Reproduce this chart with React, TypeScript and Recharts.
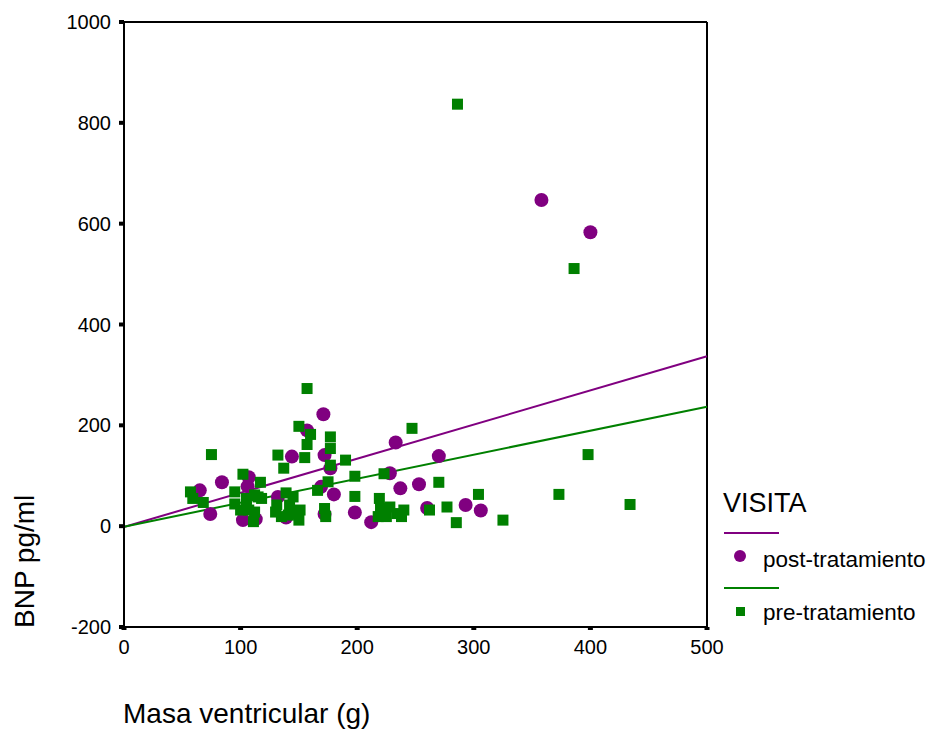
import React from 'react'
import {
  ScatterChart,
  Scatter,
  XAxis,
  YAxis,
  ReferenceLine,
  Label,
} from 'recharts'

// post-tratamiento (circles)
const postMasa = [65, 84, 74, 107, 106, 102, 113, 132, 139, 144, 157, 171, 172, 177, 169, 180, 172, 198, 212, 233, 228, 237, 253, 260, 270, 293, 306, 358, 400]
const postBnp = [71, 87, 24, 97, 79, 12, 14, 58, 17, 138, 190, 222, 141, 115, 78, 63, 24, 27, 8, 166, 105, 75, 83, 36, 139, 42, 31, 647, 583]

// pre-tratamiento (squares)
const preMasa = [57, 59, 68, 75, 95, 95, 100, 102, 105, 105, 107, 112, 112, 111, 115, 118, 117, 130, 131, 135, 132, 137, 139, 145, 142, 141, 145, 151, 150, 150, 157, 160, 157, 155, 177, 177, 177, 175, 166, 172, 173, 190, 198, 198, 219, 223, 220, 222, 218, 228, 225, 234, 240, 238, 247, 270, 262, 277, 285, 304, 325, 373, 398, 434, 386, 286]
const preBnp = [68, 55, 47, 142, 68, 44, 32, 103, 55, 38, 32, 62, 28, 9, 58, 55, 87, 28, 42, 19, 141, 115, 66, 58, 42, 22, 25, 32, 12, 198, 273, 182, 162, 136, 177, 154, 121, 88, 71, 35, 19, 131, 99, 59, 55, 104, 35, 28, 19, 38, 19, 25, 32, 19, 194, 87, 32, 38, 7, 63, 12, 63, 142, 43, 511, 837]

// fitted lines, read at x = 0 and x = 500
const fitMasa = [0, 500]
const postFit = [-1.5, 337]
const preFit = [-1, 237]

const xTicks = [0, 100, 200, 300, 400, 500]
const yTicks = [-200, 0, 200, 400, 600, 800, 1000]

const PURPLE = '#800080'
const GREEN = '#008000'
const FONT = 'Liberation Sans, Arial, sans-serif'

const postData = postMasa.map((m, i) => ({ masa: m, bnp: postBnp[i] }))
const preData = preMasa.map((m, i) => ({ masa: m, bnp: preBnp[i] }))

const Circle = (p: any) => <circle cx={p.cx} cy={p.cy} r={7} fill={PURPLE} />
const Square = (p: any) => (
  <rect x={p.cx - 5.5} y={p.cy - 5.5} width={11} height={11} fill={GREEN} />
)

const XTitle = (props: any) => {
  const vb = props.viewBox
  return (
    <text x={vb.x - 1} y={vb.y + 96} fontSize={28} fontFamily={FONT} fill="#000">
      Masa ventricular (g)
    </text>
  )
}

const YTitle = (props: any) => {
  const vb = props.viewBox
  const x = 34
  const y = vb.y + vb.height + 1
  return (
    <text x={x} y={y} fontSize={28} fontFamily={FONT} fill="#000" transform={`rotate(-90, ${x}, ${y})`}>
      BNP pg/ml
    </text>
  )
}

// legend drawn beside the plot, like the SPSS key
const LegendBox = () => (
  <svg width={209} height={160} style={{ position: 'absolute', left: 720, top: 470 }}>
    <text x={3} y={42} fontSize={27} fontFamily={FONT} fill="#000">VISITA</text>
    <line x1={4} x2={59} y1={63} y2={63} stroke={PURPLE} strokeWidth={2} />
    <circle cx={20} cy={86} r={6} fill={PURPLE} />
    <text x={43} y={97} fontSize={22.5} fontFamily={FONT} fill="#000">post-tratamiento</text>
    <line x1={4} x2={59} y1={118} y2={118} stroke={GREEN} strokeWidth={2} />
    <rect x={16} y={137} width={9} height={9} fill={GREEN} />
    <text x={43} y={150} fontSize={22.5} fontFamily={FONT} fill="#000">pre-tratamiento</text>
  </svg>
)

export default function App() {
  const tickStyle = { fill: '#000', fontSize: 20, fontFamily: FONT }
  return (
    <div style={{ position: 'absolute', left: 0, top: 0, width: 929, height: 731, background: '#fff' }}>
      <ScatterChart width={929} height={731} margin={{ top: 22, right: 222, bottom: 74, left: 0 }}>
        <XAxis
          type="number"
          dataKey="masa"
          domain={[0, 500]}
          ticks={xTicks}
          height={30}
          tick={tickStyle}
          tickSize={3}
          tickMargin={10}
          tickLine={{ stroke: '#000', strokeWidth: 5 }}
          axisLine={{ stroke: '#000', strokeWidth: 2 }}
          allowDataOverflow
        >
          <Label content={<XTitle />} />
        </XAxis>
        <YAxis
          type="number"
          dataKey="bnp"
          domain={[-200, 1000]}
          ticks={yTicks}
          width={124}
          tick={tickStyle}
          tickSize={5}
          tickMargin={8}
          tickLine={{ stroke: '#000', strokeWidth: 4 }}
          axisLine={{ stroke: '#000', strokeWidth: 2 }}
          allowDataOverflow
        >
          <Label content={<YTitle />} />
        </YAxis>
        <ReferenceLine y={1000} stroke="#000" strokeWidth={2} />
        <ReferenceLine x={500} stroke="#000" strokeWidth={2} />
        <ReferenceLine
          segment={[{ x: fitMasa[0], y: postFit[0] }, { x: fitMasa[1], y: postFit[1] }]}
          stroke={PURPLE}
          strokeWidth={2}
        />
        <ReferenceLine
          segment={[{ x: fitMasa[0], y: preFit[0] }, { x: fitMasa[1], y: preFit[1] }]}
          stroke={GREEN}
          strokeWidth={2}
        />
        <Scatter name="post-tratamiento" data={postData} fill={PURPLE} shape={Circle} isAnimationActive={false} />
        <Scatter name="pre-tratamiento" data={preData} fill={GREEN} shape={Square} isAnimationActive={false} />
      </ScatterChart>
      <LegendBox />
    </div>
  )
}
